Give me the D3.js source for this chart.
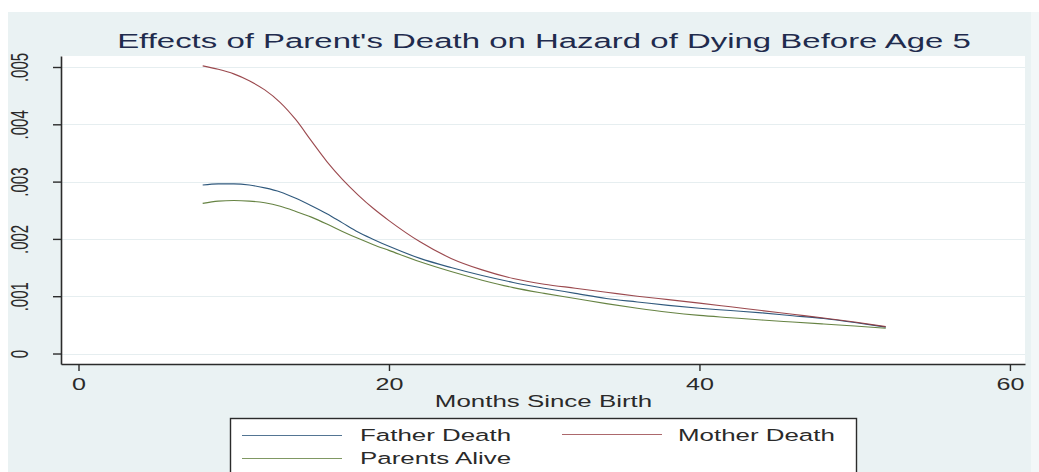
<!DOCTYPE html>
<html>
<head>
<meta charset="utf-8">
<script src="https://cdn.jsdelivr.net/npm/d3@7"></script>
<style>
  body { margin: 0; background: #ffffff; }
  svg { display: block; }
</style>
</head>
<body>
<svg id="chart" width="1039" height="472"></svg>
<script>
// Months since birth at which the smoothed hazards are evaluated
const months = [8, 9, 10, 11, 12, 13, 14, 15, 16, 17, 18, 19, 20, 22, 24, 26, 28, 30, 32, 34, 36, 38, 40, 42, 44, 46, 48, 50, 52];

// Smoothed hazard of dying before age 5, by parental status
const fatherDeath = [.00294, .00296, .00296, .00294, .00289, .00282, .00271, .00258, .00244, .00228, .00212, .00199, .00187,
  .00166, .00150, .00136, .00124, .00114, .00105, .00096, .00090, .00084, .00079, .00075, .00071, .00066, .00061, .00054, .00046];
const motherDeath = [.00502, .00496, .00488, .00476, .00460, .00438, .00408, .00371, .00335, .00304, .00277, .00253, .00232,
  .00195, .00166, .00146, .00131, .00121, .00114, .00107, .00100, .00094, .00088, .000815, .00075, .000685, .00062, .00055, .00047];
const parentsAlive = [.00262, .00266, .00267, .00266, .00263, .00257, .00248, .00238, .00226, .00213, .00201, .00190, .00180,
  .00160, .00143, .00128, .00115, .00105, .00096, .00087, .00079, .00072, .000665, .000625, .000585, .00055, .000515, .00048, .00044];

const seriesNames = ["Father Death", "Mother Death", "Parents Alive"];
const seriesColors = ["#1a476f", "#90353b", "#55752f"];

// Axis ticks
const xTickValues = [0, 20, 40, 60];
const xTickLabels = ["0", "20", "40", "60"];
const yTickValues = [0, .001, .002, .003, .004, .005];
const yTickLabels = ["0", ".001", ".002", ".003", ".004", ".005"];

const chartTitle = "Effects of Parent's Death on Hazard of Dying Before Age 5";
const xTitle = "Months Since Birth";

// ---- layout ----
const W = 1039, H = 472;
const plot = { left: 61, right: 1025, top: 56, bottom: 364 };
const SX = 1.57;               // horizontal text stretch of the graph
const FONT = "'Liberation Sans', Arial, Helvetica, sans-serif";

const svg = d3.select("#chart");

// outer graph region
svg.append("rect").attr("x", 0).attr("y", 0).attr("width", W).attr("height", H).attr("fill", "#ffffff");
svg.append("rect").attr("x", 8).attr("y", 12).attr("width", 1023).attr("height", H - 12).attr("fill", "#eaf2f3");
svg.append("rect").attr("x", 1031).attr("y", 12).attr("width", W - 1031).attr("height", H - 12).attr("fill", "#f3f7f8");

// plot region
svg.append("rect")
  .attr("x", plot.left).attr("y", plot.top)
  .attr("width", plot.right - plot.left).attr("height", plot.bottom - plot.top)
  .attr("fill", "#ffffff");

const x = d3.scaleLinear().domain([-1.127, 60.97]).range([plot.left, plot.right]);
const y = d3.scaleLinear().domain([-0.000183, 0.005192]).range([plot.bottom, plot.top]);

// grid lines
svg.append("g").selectAll("line")
  .data(yTickValues)
  .join("line")
  .attr("x1", plot.left).attr("x2", plot.right)
  .attr("y1", d => Math.round(y(d)) + 0.5).attr("y2", d => Math.round(y(d)) + 0.5)
  .attr("stroke", "#e6eef0").attr("stroke-width", 1.2);

// series lines
const series = [fatherDeath, motherDeath, parentsAlive];
const line = d3.line()
  .x((d, i) => x(months[i]))
  .y(d => y(d))
  .curve(d3.curveMonotoneX);

svg.append("g").selectAll("path")
  .data(series)
  .join("path")
  .attr("d", d => line(d))
  .attr("fill", "none")
  .attr("stroke", (d, i) => seriesColors[i])
  .attr("stroke-width", 1.1)
  .attr("stroke-opacity", 0.9);

// y axis
const yAxis = svg.append("g")
  .attr("transform", `translate(${plot.left},0)`)
  .call(d3.axisLeft(y).tickValues(yTickValues).tickFormat((d, i) => yTickLabels[i]).tickSize(8).tickSizeOuter(0));
yAxis.select(".domain").attr("stroke", "#2b2b2b").attr("stroke-width", 1.6);
yAxis.selectAll(".tick line").attr("stroke", "#2b2b2b").attr("stroke-width", 1.4);
yAxis.selectAll(".tick text")
  .attr("x", null).attr("dy", null)
  .attr("text-anchor", "middle")
  .attr("font-family", FONT).attr("font-size", 15).attr("fill", "#2a2a2a")
  .attr("transform", `translate(${28 - plot.left},0) scale(${SX},1) rotate(-90)`);

// x axis
const xAxis = svg.append("g")
  .attr("transform", `translate(0,${plot.bottom})`)
  .call(d3.axisBottom(x).tickValues(xTickValues).tickFormat((d, i) => xTickLabels[i]).tickSize(7).tickSizeOuter(0));
xAxis.select(".domain").attr("stroke", "#2b2b2b").attr("stroke-width", 1.6);
xAxis.selectAll(".tick line").attr("stroke", "#2b2b2b").attr("stroke-width", 1.4);
xAxis.selectAll(".tick text")
  .attr("y", null).attr("dy", null)
  .attr("text-anchor", "middle")
  .attr("font-family", FONT).attr("font-size", 16).attr("fill", "#2a2a2a")
  .attr("transform", `translate(0,${390 - plot.bottom}) scale(${SX},1)`);

// titles
svg.append("text")
  .attr("transform", `translate(544,48) scale(${SX},1)`)
  .attr("text-anchor", "middle")
  .attr("font-family", FONT).attr("font-size", 21)
  .attr("fill", "#1f2b4d")
  .text(chartTitle);

svg.append("text")
  .attr("transform", `translate(543.5,407) scale(${SX},1)`)
  .attr("text-anchor", "middle")
  .attr("font-family", FONT).attr("font-size", 16.5)
  .attr("fill", "#2a2a2a")
  .text(xTitle);

// legend
const legend = svg.append("g");
legend.append("rect")
  .attr("x", 230.5).attr("y", 418.5).attr("width", 626).attr("height", 70)
  .attr("fill", "#ffffff").attr("stroke", "#2b2b2b").attr("stroke-width", 1.4);

const legendItems = [
  { name: seriesNames[0], color: seriesColors[0], lx: 242, ly: 435, tx: 360, ty: 441 },
  { name: seriesNames[1], color: seriesColors[1], lx: 562, ly: 434, tx: 678, ty: 441 },
  { name: seriesNames[2], color: seriesColors[2], lx: 242, ly: 458, tx: 360, ty: 464 }
];
const li = legend.selectAll("g.item").data(legendItems).join("g").attr("class", "item");
li.append("line")
  .attr("x1", d => d.lx).attr("x2", d => d.lx + 100)
  .attr("y1", d => d.ly + 0.5).attr("y2", d => d.ly + 0.5)
  .attr("stroke", d => d.color).attr("stroke-width", 1.1).attr("stroke-opacity", 0.75);
li.append("text")
  .attr("transform", d => `translate(${d.tx},${d.ty}) scale(${SX},1)`)
  .attr("font-family", FONT).attr("font-size", 16.5).attr("fill", "#2a2a2a")
  .text(d => d.name);
</script>
</body>
</html>
